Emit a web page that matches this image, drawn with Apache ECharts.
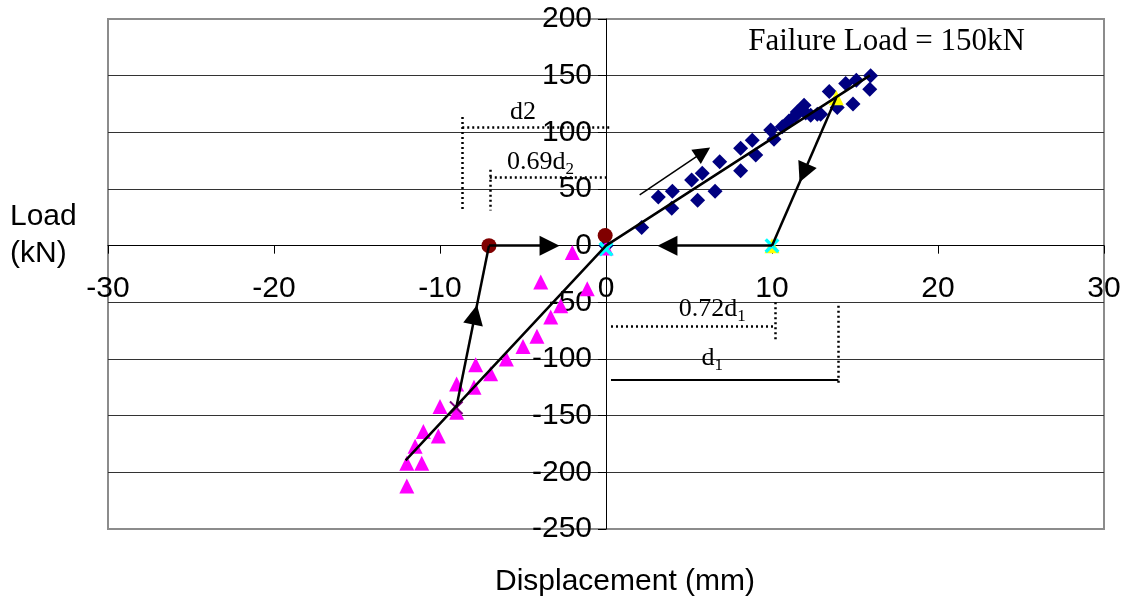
<!DOCTYPE html>
<html><head><meta charset="utf-8">
<script src="https://cdn.jsdelivr.net/npm/echarts@6/dist/echarts.min.js"></script>
<style>html,body{margin:0;padding:0;background:#fff}#c{width:1130px;height:607px}</style>
</head><body><div id="c"></div>
<script>
// ---- axis ranges ----
const xMin = -30, xMax = 30, xStep = 10;
const yMin = -250, yMax = 200, yStep = 50;

// ---- measured data (displacement mm, load kN) ----
const diamondPts = [[0,0],[2.15,16],[3.15,43],[4.0,48],[3.96,33],[5.16,58],[5.52,40],[5.8,64],[6.57,48],[6.85,74],
  [8.11,86],[8.11,66],[8.81,93],[9.02,80],[9.92,102],[10.12,94],[10.62,105],[11.02,110],[11.43,115],[11.52,118],
  [11.93,124],[12.03,117],[12.33,115],[12.73,116],[12.93,116],[13.45,136],[13.93,122],[14.44,143],[14.88,125],
  [15.08,146],[15.94,150],[15.89,138]];
const trianglePts = [[-12.0,-212],[-12.0,-192],[-11.1,-192],[-11.5,-177],[-11.0,-164],[-10.1,-168],[-10.0,-142],
  [-9.0,-147],[-9.0,-122],[-7.95,-125],[-7.85,-105],[-6.95,-113],[-6.0,-100],[-5.0,-89],[-4.16,-80],[-3.33,-63],
  [-2.73,-53],[-1.13,-38],[-3.93,-32],[-2.03,-6],[0,-2]];
const trendPts = [[-12.07,-189.5],[0,0],[15.9,150.3]];
const darkRedPts = [[-7.05,0],[-0.05,9]];
const purpleCrossPts = [[-9.02,-143]];
const cyanCrossPts = [[10,0],[0,-3]];
const yellowPts = [[13.87,130.6],[10,0]];
const magentaPts = [[0,-2]];

// ---- loading-path arrows [from, to] ----
const arrowLoad = [[2.03,44.8],[5.85,82.5]];
const arrowUnloadPos = [[13.87,130.6],[11.9,64]];
const segUnloadPos = [[11.9,64],[10,0]];
const arrowReturnPos = [[10,0],[3.7,0]];
const arrowUnloadNeg = [[-9.02,-143],[-7.89,-61]];
const segUnloadNeg = [[-7.89,-61],[-7.05,0]];
const arrowReturnNeg = [[-7.05,0],[-3.4,0]];

// ---- measurement guides ----
const guideDotted = [
  [[-8.66,104.6],[0.2,104.6]], [[-8.66,113.6],[-8.66,31]],
  [[-7.0,60],[0.2,60]], [[-7.0,67],[-7.0,31]],
  [[0.3,-70.7],[10.2,-70.7]], [[10.2,-50],[10.2,-84]],
  [[14.0,-53],[14.0,-122]]
];
const guideSolid = [[[0.3,-118],[14.0,-118]]];

// ---- annotation texts ----
const noteTexts = ['{n|d2}', '{n|0.69d}{s|2}', '{n|0.72d}{s|1}', '{n|d}{s|1}'];
const notePos = [[-5.0,117.8],[-3.95,73.4],[6.4,-56],[6.4,-99]];
const failureText = 'Failure Load = 150kN';
const failurePos = [16.9,179.7];

const chart = echarts.init(document.getElementById('c'));
const SANS = '"Liberation Sans", Arial, sans-serif';
const SERIF = '"Liberation Serif", "Times New Roman", serif';
const crossPath = 'path://M0,1.6L1.6,0L5,3.4L8.4,0L10,1.6L6.6,5L10,8.4L8.4,10L5,6.6L1.6,10L0,8.4L3.4,5Z';
const thinCross = 'path://M0,1L1,0L5,4L9,0L10,1L6,5L10,9L9,10L5,6L1,10L0,9L4,5Z';

const G = { left: 108, right: 26, top: 19, bottom: 78 };
const gridW = 1130 - G.left - G.right, gridH = 607 - G.top - G.bottom;
// shift axes so they cross at the origin
const xAxisOffset = -(gridH * (0 - yMin) / (yMax - yMin));
const yAxisOffset = -(gridW * (0 - xMin) / (xMax - xMin));

function lines(segs, width, type, arrow, size) {
  return {
    type: 'lines', coordinateSystem: 'cartesian2d', silent: true, z: 5,
    symbol: arrow ? ['none', 'triangle'] : ['none', 'none'],
    symbolSize: size || 18,
    lineStyle: { color: '#000', width: width, type: type, opacity: 1 },
    itemStyle: { color: '#000' },
    data: segs.map(s => ({ coords: s }))
  };
}
function pts(symbol, size, color, data, z) {
  return { type: 'scatter', symbol: symbol, symbolSize: size, itemStyle: { color: color, opacity: 1 }, data: data, z: z, silent: true };
}

chart.setOption({
  animation: false,
  backgroundColor: '#fff',
  grid: { left: G.left, right: G.right, top: G.top, bottom: G.bottom, show: true, borderColor: '#8c8c8c', borderWidth: 2,
          containLabel: false, outerBoundsMode: 'none' },
  xAxis: {
    type: 'value', min: xMin, max: xMax, interval: xStep, position: 'bottom', offset: xAxisOffset,
    axisLine: { show: true, onZero: false, lineStyle: { color: '#000', width: 1 } },
    axisTick: { show: true, length: 8, lineStyle: { color: '#000' } },
    axisLabel: { color: '#000', fontSize: 30, fontFamily: SANS, margin: 28 },
    splitLine: { show: false }
  },
  yAxis: {
    type: 'value', min: yMin, max: yMax, interval: yStep, position: 'left', offset: yAxisOffset,
    axisLine: { show: true, onZero: false, lineStyle: { color: '#000', width: 1 } },
    axisTick: { show: true, length: 8, lineStyle: { color: '#000' } },
    axisLabel: { color: '#000', fontSize: 30, fontFamily: SANS, margin: 14 },
    splitLine: { show: true, showMinLine: false, showMaxLine: false, lineStyle: { color: '#333', width: 1 } }
  },
  graphic: [
    { type: 'text', x: 10, y: 198, style: { text: 'Load\n(kN)', font: '30px ' + SANS, lineHeight: 37, fill: '#000' } },
    { type: 'text', x: 625, y: 582, style: { text: 'Displacement (mm)', font: '30px ' + SANS, fill: '#000', align: 'center', verticalAlign: 'middle' } }
  ],
  series: [
    pts('diamond', 15, '#000080', diamondPts, 2),
    pts('triangle', 15, '#ff00ff', trianglePts, 2),
    pts('rect', 8, '#ff00ff', magentaPts, 3),
    pts('circle', 15, '#800000', darkRedPts, 3),
    pts('triangle', 15, '#ffff00', yellowPts, 3),
    pts(thinCross, 14, '#800080', purpleCrossPts, 3),
    pts(crossPath, 15, '#00ffff', cyanCrossPts, 3),
    { type: 'line', data: trendPts, showSymbol: false, symbol: 'none', lineStyle: { color: '#000', width: 2.5 }, z: 5, silent: true },
    lines([arrowLoad], 1.5, 'solid', true, 17),
    lines([arrowUnloadPos, arrowReturnPos, arrowUnloadNeg, arrowReturnNeg], 2.5, 'solid', true, 20),
    lines([segUnloadPos, segUnloadNeg], 2.5, 'solid', false),
    lines(guideDotted, 2.5, [2, 3], false),
    lines(guideSolid, 2, 'solid', false),
    {
      type: 'scatter', symbol: 'circle', symbolSize: 1, itemStyle: { color: 'rgba(0,0,0,0)' }, silent: true, z: 6,
      data: notePos.map((p, i) => ({ value: p, name: noteTexts[i] })),
      label: {
        show: true, position: 'inside', formatter: p => p.name, color: '#000', textBorderWidth: 0, opacity: 1,
        rich: {
          n: { fontFamily: SERIF, fontSize: 26, lineHeight: 32, color: '#000', textBorderWidth: 0 },
          s: { fontFamily: SERIF, fontSize: 17, lineHeight: 12, verticalAlign: 'bottom', color: '#000', textBorderWidth: 0 }
        }
      }
    },
    {
      type: 'scatter', symbol: 'circle', symbolSize: 1, itemStyle: { color: 'rgba(0,0,0,0)' }, silent: true, z: 6,
      data: [{ value: failurePos, name: failureText }],
      label: { show: true, position: 'inside', formatter: p => p.name, color: '#000', textBorderWidth: 0, opacity: 1,
               fontFamily: SERIF, fontSize: 31 }
    }
  ]
});
</script>
</body></html>
